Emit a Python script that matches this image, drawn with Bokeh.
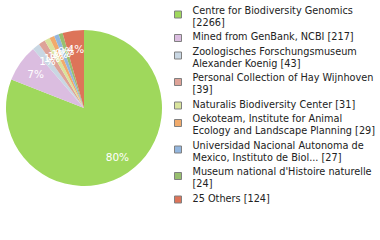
import math
import textwrap
from bokeh.plotting import figure
from bokeh.models import Range1d, ColumnDataSource
from bokeh.core.properties import value
from bokeh.embed import file_html
from bokeh.resources import INLINE

names = [
    "Centre for Biodiversity Genomics",
    "Mined from GenBank, NCBI",
    "Zoologisches Forschungsmuseum Alexander Koenig",
    "Personal Collection of Hay Wijnhoven",
    "Naturalis Biodiversity Center",
    "Oekoteam, Institute for Animal Ecology and Landscape Planning",
    "Universidad Nacional Autonoma de Mexico, Instituto de Biol...",
    "Museum national d'Histoire naturelle",
    "25 Others",
]
counts = [2266, 217, 43, 39, 31, 29, 27, 24, 124]
colors = ["#9fd85c", "#dbbde0", "#c9d7e3", "#dea398", "#d9e49d",
          "#f1ab6c", "#93b6de", "#98bf6f", "#dd7459"]

W, H = 380, 240

p = figure(width=W, height=H, output_backend="svg", toolbar_location=None,
           x_range=Range1d(0, W), y_range=Range1d(0, H), min_border=0)
p.axis.visible = False
p.grid.visible = False
p.outline_line_color = None
p.background_fill_color = "white"


def fy(y):
    return H - y


# pie
cx, cy, r = 83.5, fy(107.5), 78
total = sum(counts)
starts, ends, mids = [], [], []
acc = 0.0
for c in counts:
    t0 = acc / total * 2 * math.pi
    acc += c
    t1 = acc / total * 2 * math.pi
    starts.append(math.pi / 2 - t1)
    ends.append(math.pi / 2 - t0)
    mids.append((t0 + t1) / 2)

src = ColumnDataSource(dict(start=starts, end=ends, color=colors))
p.wedge(x=cx, y=cy, radius=r, start_angle="start", end_angle="end",
        fill_color="color", line_color=None, source=src)

lr = 0.76 * r
lx = [cx + lr * math.sin(m) for m in mids]
ly = [cy + lr * math.cos(m) for m in mids]
labels = [f"{int(100 * c / total)}%" for c in counts]
p.text(x=lx, y=ly, text=labels, text_color="white",
       text_font=value("DejaVu Sans"), text_font_size="10.5px",
       text_align="center", text_baseline="middle")

# legend
lines_x, lines_y, lines_t = [], [], []
sq_y = []
first = 9.5
for n, c in zip(names, counts):
    ls = textwrap.wrap(f"{n} [{c}]", width=36)
    for i, t in enumerate(ls):
        lines_x.append(192)
        lines_y.append(fy(first + 12 * i))
        lines_t.append(t)
    sq_y.append(fy(first + 1.5 + 3 * (len(ls) - 1)))
    first += 12 * len(ls) + 2.5

p.rect(x=[177.5] * len(sq_y), y=sq_y, width=7, height=7,
       fill_color=colors, line_color="#808080", line_width=1)
p.text(x=lines_x, y=lines_y, text=lines_t, text_color="#222222",
       text_font=value("DejaVu Sans Condensed"), text_font_size="10.8px",
       text_align="left", text_baseline="middle")

open("out.html", "w").write(file_html(p, INLINE))
